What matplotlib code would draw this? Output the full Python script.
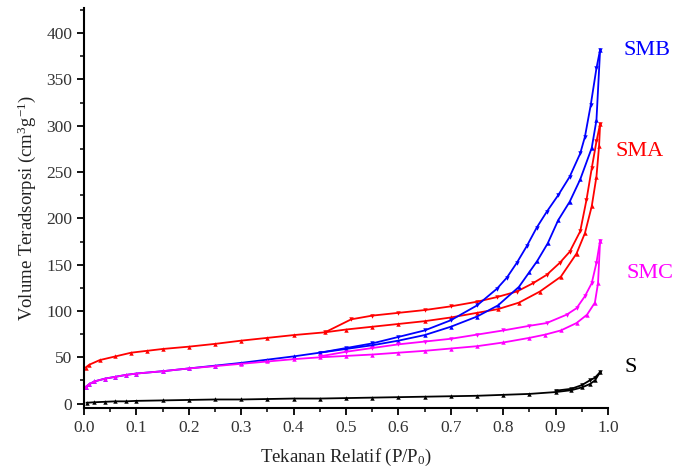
import matplotlib
matplotlib.use("Agg")
import matplotlib.pyplot as plt
from matplotlib.ticker import MultipleLocator

plt.rcParams['font.family'] = ['Liberation Serif', 'DejaVu Serif']
plt.rcParams['mathtext.fontset'] = 'custom'
plt.rcParams['mathtext.rm'] = 'Liberation Serif'
plt.rcParams['mathtext.it'] = 'Liberation Serif:italic'

# ---- data ----
s_ads_p = [0.005, 0.02, 0.04, 0.06, 0.08, 0.1, 0.15, 0.2, 0.25, 0.3, 0.35, 0.4, 0.45, 0.5,
           0.55, 0.6, 0.65, 0.7, 0.75, 0.8, 0.85, 0.9, 0.93, 0.95, 0.965, 0.975, 0.985]
s_ads_v = [1, 1.5, 2, 2.5, 2.5, 3, 3.5, 4, 4.5, 4.5, 5, 5.5, 5.5, 6,
           6.5, 7, 7.5, 8, 8.5, 9.5, 10.5, 12.5, 14.5, 17.5, 21, 25, 34]
s_des_p = [0.985, 0.975, 0.965, 0.95, 0.93, 0.9]
s_des_v = [34, 28, 25, 20, 16, 14]

smc_ads_p = [0.003, 0.01, 0.02, 0.04, 0.06, 0.08, 0.1, 0.15, 0.2, 0.25, 0.3, 0.35, 0.4, 0.45,
             0.5, 0.55, 0.6, 0.65, 0.7, 0.75, 0.8, 0.85, 0.88, 0.91, 0.94, 0.96, 0.975, 0.981, 0.985]
smc_ads_v = [18, 21, 24, 27, 29, 31, 32.5, 35, 38, 40.5, 43, 45.5, 48, 50,
             51.5, 53, 55, 57, 59.5, 62, 66, 71, 74.5, 79, 87, 96, 109, 130, 176]
smc_des_p = [0.985, 0.978, 0.969, 0.956, 0.94, 0.921, 0.883, 0.85, 0.8, 0.75, 0.7, 0.65,
             0.6, 0.55, 0.5, 0.45]
smc_des_v = [176, 152, 130, 116, 103, 96, 87, 84, 79, 74.5, 70, 67, 64, 60, 56, 51]

smb_ads_p = [0.003, 0.01, 0.02, 0.04, 0.06, 0.08, 0.1, 0.15, 0.2, 0.25, 0.3, 0.35, 0.4, 0.45,
             0.5, 0.55, 0.6, 0.65, 0.7, 0.75, 0.79, 0.83, 0.85, 0.865, 0.885, 0.905, 0.927,
             0.947, 0.969, 0.978, 0.985]
smb_ads_v = [18, 21, 24, 27, 29, 31, 32.5, 35, 38, 41, 44, 47.5, 51, 55,
             59, 63, 68, 74, 83, 94, 106, 126, 142, 154, 173, 198, 218,
             242, 276, 306, 382]
smb_des_p = [0.985, 0.978, 0.967, 0.956, 0.947, 0.927, 0.905, 0.883, 0.864, 0.845, 0.826,
             0.807, 0.788, 0.75, 0.7, 0.65, 0.6, 0.55, 0.5, 0.45]
smb_des_v = [382, 362, 322, 288, 270, 245, 225, 207, 190, 170, 152,
             136, 124, 106, 90, 79, 72, 65, 60, 55]

sma_ads_p = [0.003, 0.01, 0.03, 0.06, 0.09, 0.12, 0.15, 0.2, 0.25, 0.3, 0.35, 0.4, 0.46,
             0.5, 0.55, 0.6, 0.65, 0.7, 0.75, 0.79, 0.83, 0.87, 0.91, 0.94, 0.956, 0.969,
             0.978, 0.983, 0.985]
sma_ads_v = [39, 42, 47, 51, 55, 57, 59, 61.5, 64.5, 68, 71, 74, 77,
             80, 83, 86, 89, 93, 98, 102, 109, 121, 137, 162, 184, 213,
             245, 278, 302]
sma_des_p = [0.985, 0.978, 0.969, 0.959, 0.947, 0.927, 0.908, 0.883, 0.857, 0.826, 0.788,
             0.75, 0.7, 0.65, 0.6, 0.55, 0.51, 0.46]
sma_des_v = [302, 283, 254, 220, 186, 164, 152, 139, 130, 121, 115,
             110, 105, 101, 98, 95, 91, 77]

series_names = ['SMB', 'SMA', 'SMC', 'S']
x_ticks = [0.0, 0.1, 0.2, 0.3, 0.4, 0.5, 0.6, 0.7, 0.8, 0.9, 1.0]
y_ticks = [0, 50, 100, 150, 200, 250, 300, 350, 400]

# ---- figure ----
fig = plt.figure(figsize=(6.79, 4.72), dpi=100)
ax = fig.add_axes([0.1237, 0.135, 0.7717, 0.848])

colors = {'S': 'black', 'SMC': '#ff00ff', 'SMB': '#0000ff', 'SMA': '#ff0000'}
data = {
    'S': (s_ads_p, s_ads_v, s_des_p, s_des_v),
    'SMC': (smc_ads_p, smc_ads_v, smc_des_p, smc_des_v),
    'SMB': (smb_ads_p, smb_ads_v, smb_des_p, smb_des_v),
    'SMA': (sma_ads_p, sma_ads_v, sma_des_p, sma_des_v),
}
for name in ['S', 'SMA', 'SMB', 'SMC']:
    ap, av, dp, dv = data[name]
    c = colors[name]
    ax.plot(ap, av, color=c, lw=1.3, marker='^', ms=3.2, mew=0)
    ax.plot(dp, dv, color=c, lw=1.3, marker='v', ms=3.2, mew=0)

label_pos = {'SMB': (1.075, 381), 'SMA': (1.061, 272), 'SMC': (1.08, 141), 'S': (1.044, 39)}
for name in series_names:
    x, y = label_pos[name]
    ax.text(x, y, name, color=colors[name], fontsize=16, ha='center', va='center',
            clip_on=False)

ax.set_xlim(0, 1.0)
ax.set_ylim(-5, 427)
ax.set_xticks(x_ticks)
ax.set_xticklabels([f"{t:.1f}" for t in x_ticks])
ax.set_yticks(y_ticks)
ax.set_yticklabels([str(t) for t in y_ticks])
ax.xaxis.set_minor_locator(MultipleLocator(0.05))
ax.yaxis.set_minor_locator(MultipleLocator(25))
for s in ['top', 'right']:
    ax.spines[s].set_visible(False)
for s in ['left', 'bottom']:
    ax.spines[s].set_linewidth(1.5)
ax.tick_params(which='major', direction='out', length=5, width=1.3, labelsize=12.5,
               labelcolor='#333333')
ax.tick_params(which='minor', direction='out', length=3, width=1.1)

ax.set_xlabel(r'Tekanan Relatif (P/P$_\mathregular{0}$)', fontsize=13.5, color='#222222',
              labelpad=8)
ax.set_ylabel(r'Volume Teradsorpsi (cm$^\mathregular{3}$g$^\mathregular{-1}$)', fontsize=13.5,
              color='#222222', labelpad=6)

fig.savefig('out.png', dpi=100)
